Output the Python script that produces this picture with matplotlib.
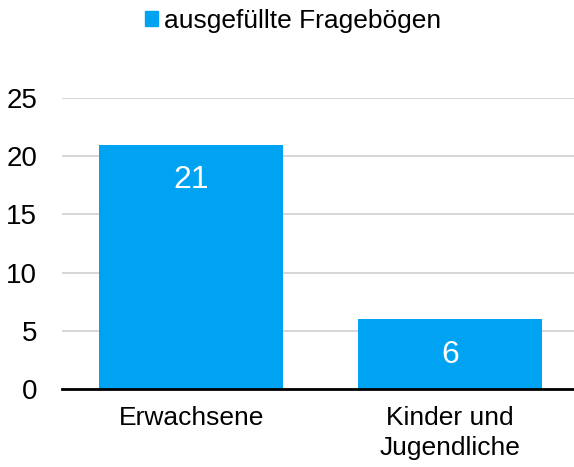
import matplotlib
matplotlib.use("Agg")
import matplotlib.pyplot as plt
from matplotlib.patches import Patch

plt.rcParams["font.family"] = ["Liberation Sans", "DejaVu Sans"]

# Data
categories = ["Erwachsene", "Kinder und\nJugendliche"]
values = [21, 6]
series_name = "ausgefüllte Fragebögen"
y_ticks = [0, 5, 10, 15, 20, 25]

bar_color = "#00A2F2"

fig = plt.figure(figsize=(5.74, 4.67), dpi=100)
ax = fig.add_axes([62 / 574, 78 / 467, 512 / 574, 291 / 467])

x = list(range(len(categories)))
ax.bar(x, values, width=0.71, color=bar_color, zorder=2)

for xi, v in zip(x, values):
    ax.annotate(str(v), (xi, v), xytext=(0, -25.5), textcoords="offset points",
                ha="center", va="center", color="white", fontsize=23)

ax.set_xlim(-0.5, 1.48)
ax.set_ylim(0, 25)
ax.set_yticks(y_ticks)
ax.set_xticks(x)
ax.set_xticklabels(categories, fontsize=19, linespacing=1.35)
ax.tick_params(axis="y", length=0, pad=18, labelsize=20)
ax.tick_params(axis="x", length=0, pad=12)
for lbl in ax.get_yticklabels():
    lbl.set_horizontalalignment("right")

ax.grid(axis="y", color="#CFCFCF", linewidth=1.2, zorder=0)
for side in ["top", "right", "left"]:
    ax.spines[side].set_visible(False)
ax.spines["bottom"].set_linewidth(2)
ax.spines["bottom"].set_zorder(3)

handle = Patch(color=bar_color)
fig.legend([handle], [series_name], loc="center", bbox_to_anchor=(0.511, 0.955),
           frameon=False, fontsize=19, handlelength=0.48, handleheight=0.48,
           handletextpad=0.25, borderaxespad=0)

fig.savefig("out.png", dpi=100)
